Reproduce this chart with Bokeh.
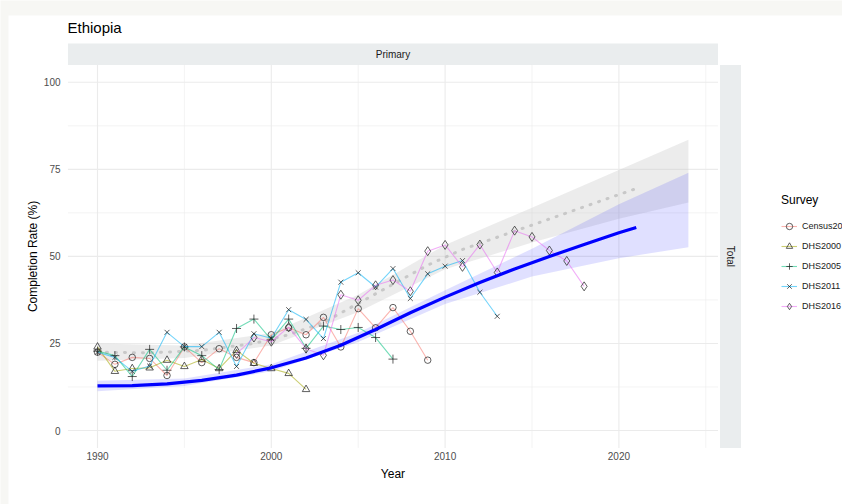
import math
from bokeh.plotting import figure
from bokeh.models import Range1d, Label
from bokeh.embed import file_html
from bokeh.resources import INLINE

# ---------------- data ----------------
census_years = list(range(1990, 2010))
census_vals = [22.5, 19.0, 21.0, 20.7, 15.8, 24.0, 19.5, 23.5, 21.0, 19.5,
               27.5, 29.5, 27.5, 32.5, 24.0, 35.0, 29.5, 35.3, 28.5, 20.2]

dhs2000_years = list(range(1990, 2003))
dhs2000_vals = [24.0, 17.0, 17.8, 18.0, 20.2, 18.4, 20.4, 17.8, 23.0, 19.3,
                17.8, 16.4, 11.8]

dhs2005_years = list(range(1990, 2008))
dhs2005_vals = [22.8, 21.5, 15.5, 23.3, 17.3, 24.0, 21.5, 17.5, 29.3, 32.0,
                26.0, 32.0, 23.6, 30.0, 29.0, 29.6, 26.7, 20.5]

dhs2011_years = list(range(1990, 2014))
dhs2011_vals = [22.5, 21.0, 17.0, 18.5, 28.2, 24.1, 24.1, 28.2, 18.4, 27.8,
                26.5, 34.7, 31.9, 26.4, 42.6, 45.3, 41.2, 46.5, 37.9, 45.0,
                47.2, 48.8, 39.7, 32.8]

dhs2016_years = list(range(1998, 2019))
dhs2016_vals = [22.0, 26.7, 25.5, 29.7, 23.5, 21.6, 39.0, 37.4, 41.7, 43.2,
                40.0, 51.5, 53.3, 47.0, 53.4, 45.4, 57.4, 55.6, 51.7, 48.7, 41.4]

# fitted trend (blue) and its band
trend_years = [1990, 1992, 1994, 1996, 1998, 2000, 2002, 2004, 2006, 2008,
               2010, 2012, 2014, 2016, 2018, 2020, 2021]
trend_vals = [12.8, 12.9, 13.4, 14.4, 15.9, 18.0, 20.8, 24.5, 29.0, 33.8,
              38.3, 42.5, 46.4, 50.0, 53.4, 56.8, 58.3]
trend_band_years = [1990, 1995, 2000, 2005, 2010, 2015, 2020, 2024]
trend_lo = [11.3, 12.8, 17.0, 25.4, 36.3, 44.2, 49.5, 52.6]
trend_hi = [14.3, 14.9, 19.0, 28.1, 40.3, 52.2, 65.0, 74.0]

# reference trend (grey dotted) and its band
ref_years = [1990, 1993, 1996, 1999, 2001, 2003, 2005, 2007, 2009, 2011,
             2013, 2015, 2017, 2019, 2021]
ref_vals = [22.5, 22.3, 23.0, 25.0, 27.5, 31.0, 36.5, 42.0, 47.5, 52.0,
            55.5, 59.0, 62.5, 66.0, 69.5]
ref_band_years = [1990, 1995, 2000, 2005, 2010, 2015, 2020, 2024]
ref_lo = [20.0, 20.8, 24.4, 34.0, 46.3, 54.0, 60.8, 65.5]
ref_hi = [25.0, 24.4, 28.0, 39.0, 53.3, 64.0, 74.8, 83.5]

x_ticks = [1990, 2000, 2010, 2020]
x_tick_labels = ["1990", "2000", "2010", "2020"]
x_minor = [1995, 2005, 2015, 2025]
y_ticks = [0, 25, 50, 75, 100]
y_tick_labels = ["0", "25", "50", "75", "100"]
y_minor = [12.5, 37.5, 62.5, 87.5]

series = [
    ("Census2007", census_years, census_vals, "#F8766D", "circle", 6.5),
    ("DHS2000", dhs2000_years, dhs2000_vals, "#A3A500", "triangle", 7.5),
    ("DHS2005", dhs2005_years, dhs2005_vals, "#00BF7D", "cross", 9),
    ("DHS2011", dhs2011_years, dhs2011_vals, "#00B0F6", "x", 7),
    ("DHS2016", dhs2016_years, dhs2016_vals, "#E76BF3", "diamond", 9),
]

# ---------------- geometry (page pixels -> data) ----------------
FONT = "Liberation Sans"
W, H = 842, 504
PX_PER_YR = 17.38
PX_PER_UNIT = 3.4818
X_1990_PX = 97.0
Y_0_PX = 430.0


def xd(px):
    return 1990 + (px - X_1990_PX) / PX_PER_YR


def yd(py):
    return (Y_0_PX - py) / PX_PER_UNIT


PANEL_X0, PANEL_X1 = 1988.3, 2025.7
PANEL_Y0, PANEL_Y1 = -5.0, 105.0

p = figure(width=W, height=H, output_backend="svg", toolbar_location=None,
           x_range=Range1d(xd(0), xd(W)), y_range=Range1d(yd(H), yd(0)),
           x_axis_location=None, y_axis_location=None,
           min_border=0, min_border_left=0, min_border_right=0,
           min_border_top=0, min_border_bottom=0)
p.outline_line_color = None
p.background_fill_color = "#f7f7f4"
p.border_fill_color = "#f7f7f4"
p.xgrid.visible = False
p.ygrid.visible = False

# white card
p.quad(left=xd(8), right=xd(W + 5), bottom=yd(H + 5), top=yd(15),
       fill_color="white", line_color=None)

# strips
STRIP = "#eaedee"
p.quad(left=PANEL_X0, right=PANEL_X1, bottom=PANEL_Y1, top=yd(43),
       fill_color=STRIP, line_color=None)
p.quad(left=xd(719.5), right=xd(740.5), bottom=PANEL_Y0, top=PANEL_Y1,
       fill_color=STRIP, line_color=None)

# grid
GRID = "#ebebeb"
p.segment(x0=x_ticks, y0=[PANEL_Y0] * 4, x1=x_ticks, y1=[PANEL_Y1] * 4,
          line_color=GRID, line_width=1.1)
p.segment(x0=x_minor, y0=[PANEL_Y0] * 4, x1=x_minor, y1=[PANEL_Y1] * 4,
          line_color=GRID, line_width=0.6)
p.segment(x0=[PANEL_X0] * 5, y0=y_ticks, x1=[PANEL_X1] * 5, y1=y_ticks,
          line_color=GRID, line_width=1.1)
p.segment(x0=[PANEL_X0] * 4, y0=y_minor, x1=[PANEL_X1] * 4, y1=y_minor,
          line_color=GRID, line_width=0.6)

# tick labels
p.text(x=[xd(60)] * len(y_ticks), y=y_ticks, text=y_tick_labels,
       text_font={"value": FONT}, text_font_size="10px", text_color="#4d4d4d",
       text_align="right", text_baseline="middle")
p.text(x=x_ticks, y=[yd(455)] * len(x_ticks), text=x_tick_labels,
       text_font={"value": FONT}, text_font_size="10px", text_color="#4d4d4d",
       text_align="center", text_baseline="middle")

# bands
p.varea(x=ref_band_years, y1=ref_lo, y2=ref_hi, fill_color="#c8c8c8", fill_alpha=0.35)
p.varea(x=trend_band_years, y1=trend_lo, y2=trend_hi, fill_color="#0000ff", fill_alpha=0.12)
p.line(ref_years, ref_vals, line_color="#c8c8c8", line_width=3, line_dash="1 8",
       line_cap="round")

# survey series
for name, xs, ys, col, marker, sz in series:
    p.line(xs, ys, line_color=col, line_alpha=0.55, line_width=1.1, legend_label=name)
    p.scatter(xs, ys, marker=marker, size=sz, fill_alpha=0, line_color="#222222",
              line_alpha=0.8, line_width=0.9, legend_label=name)

p.line(trend_years, trend_vals, line_color="#0000ff", line_width=3.2)

lg = p.legend[0]
lg.title = "Survey"
lg.title_text_font = FONT
lg.title_text_font_size = "12px"
lg.title_text_font_style = "normal"
lg.title_text_color = "black"
lg.title_standoff = 9
lg.label_text_font = FONT
lg.label_text_font_size = "9px"
lg.label_text_color = "#1a1a1a"
lg.glyph_width = 16
lg.glyph_height = 20
lg.label_height = 20
lg.label_standoff = 5
lg.spacing = 0
lg.padding = 4
lg.margin = 0
lg.border_line_color = None
lg.background_fill_alpha = 0
lg.location = (781, H - 316)

# texts
p.add_layout(Label(x=xd(67), y=yd(27), text="Ethiopia", text_font=FONT,
                   text_font_size="15px", text_color="black", text_baseline="middle"))
p.add_layout(Label(x=(PANEL_X0 + PANEL_X1) / 2, y=yd(54), text="Primary", text_font=FONT,
                   text_font_size="10px", text_color="#1a1a1a", text_align="center",
                   text_baseline="middle"))
p.add_layout(Label(x=xd(730), y=50, text="Total", text_font=FONT, text_font_size="10px",
                   text_color="#1a1a1a", text_align="center", text_baseline="middle",
                   angle=-math.pi / 2))
p.add_layout(Label(x=(PANEL_X0 + PANEL_X1) / 2, y=yd(473), text="Year", text_font=FONT,
                   text_font_size="12px", text_color="black", text_align="center",
                   text_baseline="middle"))
p.add_layout(Label(x=xd(32), y=50, text="Completion Rate (%)", text_font=FONT,
                   text_font_size="12px", text_color="black", text_align="center",
                   text_baseline="middle", angle=math.pi / 2))

open("out.html", "w").write(file_html(p, INLINE))
